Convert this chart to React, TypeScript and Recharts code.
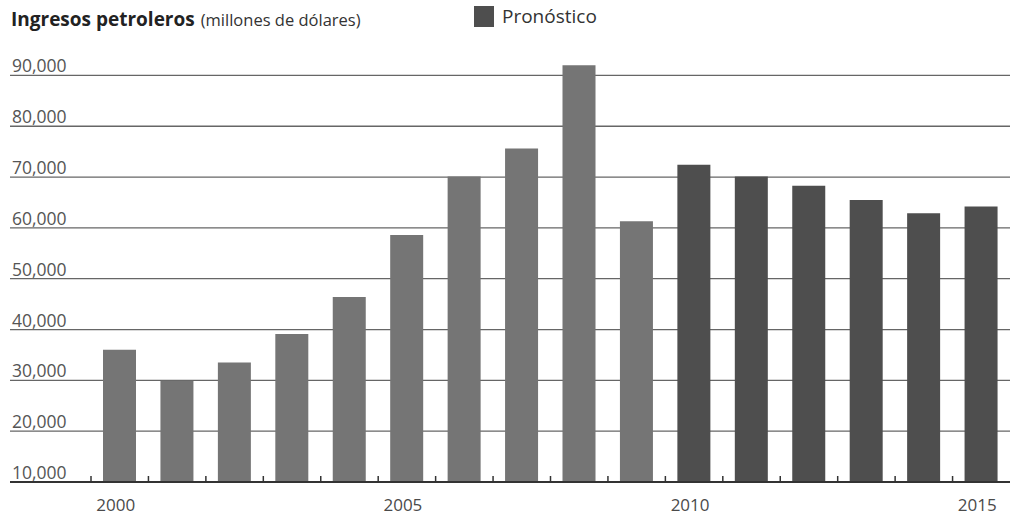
import React from 'react';
import { ComposedChart, Bar, XAxis, YAxis, CartesianGrid, Cell } from 'recharts';

const years = ['2000', '2001', '2002', '2003', '2004', '2005', '2006', '2007', '2008', '2009', '2010', '2011', '2012', '2013', '2014', '2015'];
const ingresos = [36000, 29900, 33500, 39100, 46400, 58600, 70100, 75600, 92000, 61300, 72400, 70100, 68300, 65500, 62900, 64200];
const pronostico = [false, false, false, false, false, false, false, false, false, false, true, true, true, true, true, true];
const yTicks = [10000, 20000, 30000, 40000, 50000, 60000, 70000, 80000, 90000];
const labeledYears = ['2000', '2005', '2010', '2015'];

const data = years.map((y, i) => ({ year: y, value: ingresos[i], forecast: pronostico[i] }));

const W = 1012;
const H = 519;
const M = { top: 50, right: 2, left: 10, bottom: 0 };
const PAD_LEFT = 81;
const BAND = (W - M.right - M.left - PAD_LEFT) / years.length;

const FONT = '"Open Sans", "DejaVu Sans", sans-serif';

const XTick = (props: any) => {
  const { x, y, payload } = props;
  const bx = x - BAND / 2;
  return (
    <g>
      <line x1={bx} x2={bx} y1={y} y2={y - 6} stroke="#333" strokeWidth={1.5} />
      {labeledYears.includes(payload.value) && (
        <text x={x - 4} y={y + 29} textAnchor="middle" fontFamily={FONT} fontSize={17} fill="#4a4a4a">
          {payload.value}
        </text>
      )}
    </g>
  );
};

const YTick = (props: any) => {
  const { y, payload } = props;
  return (
    <text x={12} y={y - 3} textAnchor="start" fontFamily={FONT} fontSize={17.5} fill="#555">
      {Number(payload.value).toLocaleString('en-US')}
    </text>
  );
};

export default function App() {
  return (
    <div style={{ position: 'absolute', left: 0, top: 0, width: W, height: H, background: '#fff' }}>
      <div style={{ position: 'absolute', left: 11, top: 6, fontFamily: FONT, color: '#222', whiteSpace: 'nowrap', display: 'flex', alignItems: 'baseline' }}>
        <span style={{ fontWeight: 700, fontSize: 19 }}>Ingresos petroleros</span>
        <span style={{ fontSize: 16.5, marginLeft: 6, color: '#333' }}>(millones de dólares)</span>
      </div>
      <div style={{ position: 'absolute', left: 474, top: 3, display: 'flex', alignItems: 'center', fontFamily: FONT, whiteSpace: 'nowrap' }}>
        <div style={{ width: 20, height: 21, background: '#4e4e4e', marginRight: 8 }} />
        <span style={{ fontSize: 19, color: '#333' }}>Pronóstico</span>
      </div>
      <ComposedChart width={W} height={H} data={data} margin={M}>
        <CartesianGrid horizontal vertical={false} horizontalValues={yTicks} stroke="#666" strokeWidth={1.3} />
        <XAxis
          dataKey="year"
          height={37}
          padding={{ left: PAD_LEFT, right: 0 }}
          tickLine={false}
          tickSize={0}
          tickMargin={0}
          axisLine={{ stroke: '#333', strokeWidth: 2 }}
          tick={<XTick />}
          interval={0}
        />
        <YAxis
          mirror
          width={60}
          domain={[10000, 95000]}
          ticks={yTicks}
          interval={0}
          allowDataOverflow
          axisLine={false}
          tickLine={false}
          tick={<YTick />}
        />
        <Bar dataKey="value" barSize={33} isAnimationActive={false}>
          {data.map((d, i) => (
            <Cell key={i} fill={d.forecast ? '#4e4e4e' : '#757575'} />
          ))}
        </Bar>
      </ComposedChart>
    </div>
  );
}
